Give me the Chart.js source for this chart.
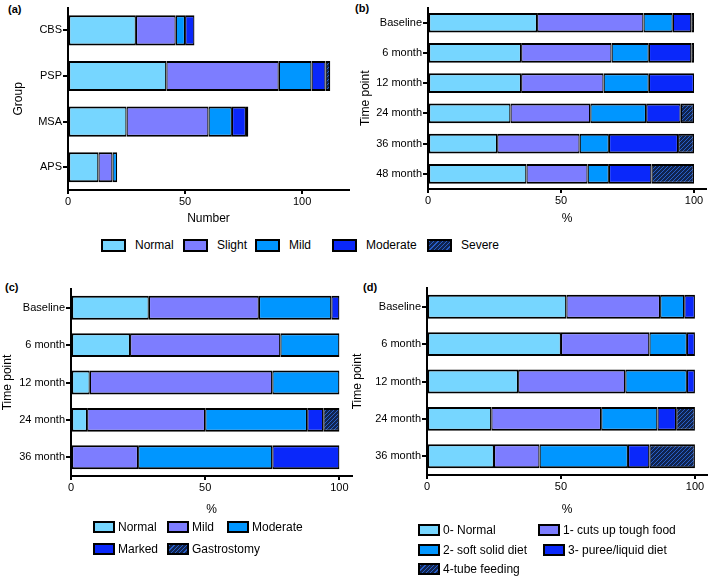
<!DOCTYPE html>
<html>
<head>
<meta charset="utf-8">
<script src="https://cdn.jsdelivr.net/npm/chart.js@4.4.1/dist/chart.umd.min.js"></script>
<style>
    body { margin: 0; background: #fff; width: 709px; height: 578px; position: relative; overflow: hidden;
           font-family: "Liberation Sans", Arial, sans-serif; color: #000; }
    .box { position: absolute; }
    .tag { position: absolute; font-weight: bold; font-size: 11px; line-height: 12px; }
    .leg { position: absolute; font-size: 12px; line-height: 16px; height: 16px; display: flex; align-items: center; white-space: nowrap; }
    .sw { display: inline-block; width: 21px; height: 9px; border: 2px solid #000; margin-right: 9px; box-sizing: content-box; }
    .small .sw { width: 18px; height: 8px; margin-right: 3px; }
</style>
</head>
<body>

<div class="tag" style="left:8px;top:3px">(a)</div>
<div class="tag" style="left:355px;top:2px">(b)</div>
<div class="tag" style="left:5px;top:281px">(c)</div>
<div class="tag" style="left:363px;top:281px">(d)</div>

<div class="box" style="left:0;top:0;width:356px;height:230px"><canvas id="chartA"></canvas></div>
<div class="box" style="left:350px;top:0;width:359px;height:230px"><canvas id="chartB"></canvas></div>
<div class="box" style="left:0;top:280px;width:356px;height:241px"><canvas id="chartC"></canvas></div>
<div class="box" style="left:350px;top:280px;width:359px;height:241px"><canvas id="chartD"></canvas></div>

<div id="legends"></div>

<script>
// ---- data ----
const groupsA = ['CBS', 'PSP', 'MSA', 'APS'];
const normalA = [29, 42, 25, 13];
const slightA = [17, 48, 35, 6];
const mildA = [4, 14, 10, 2];
const moderateA = [4, 6, 6, 0];
const severeA = [0, 2, 1, 0];

const timesB = ['Baseline', '6 month', '12 month', '24 month', '36 month', '48 month'];
const normalB = [41, 35, 35, 31, 26, 37];
const slightB = [40, 34, 31, 30, 31, 23];
const mildB = [11, 14, 17, 21, 11, 8];
const moderateB = [7, 16, 17, 13, 26, 16];
const severeB = [1, 1, 0, 5, 6, 16];

const timesC = ['Baseline', '6 month', '12 month', '24 month', '36 month'];
const normalC = [29, 22, 7, 6, 0];
const mildC = [41, 56, 68, 44, 25];
const moderateC = [27, 22, 25, 38, 50];
const markedC = [3, 0, 0, 6, 25];
const gastroC = [0, 0, 0, 6, 0];

const timesD = ['Baseline', '6 month', '12 month', '24 month', '36 month'];
const normalD = [52, 50, 34, 24, 25];
const cutsD = [35, 33, 40, 41, 17];
const softD = [9, 14, 23, 21, 33];
const pureeD = [4, 3, 3, 7, 8];
const tubeD = [0, 0, 0, 7, 17];

const labelsAB = ['Normal', 'Slight', 'Mild', 'Moderate', 'Severe'];
const labelsC = ['Normal', 'Mild', 'Moderate', 'Marked', 'Gastrostomy'];
const labelsD = ['0- Normal', '1- cuts up tough food', '2- soft solid diet', '3- puree/liquid diet', '4-tube feeding'];
const xTicks = [0, 50, 100];

// ---- colours ----
const cLight = 'rgb(118, 214, 255)';
const cPurple = 'rgb(125, 125, 255)';
const cMid = 'rgb(0, 150, 255)';
const cDark = 'rgb(10, 40, 250)';

function hatch() {
    const c = document.createElement('canvas');
    c.width = 4; c.height = 4;
    const g = c.getContext('2d');
    g.fillStyle = 'rgb(16, 36, 80)';
    g.fillRect(0, 0, 4, 4);
    g.strokeStyle = 'rgb(40, 95, 200)';
    g.lineWidth = 1;
    g.beginPath();
    g.moveTo(-1, 5); g.lineTo(5, -1);
    g.moveTo(-1, 1); g.lineTo(1, -1);
    g.moveTo(3, 5); g.lineTo(5, 3);
    g.stroke();
    return g.createPattern(c, 'repeat');
}
const cHatch = hatch();
const colors = [cLight, cPurple, cMid, cDark, cHatch];

Chart.defaults.font.family = '"Liberation Sans", Arial, sans-serif';
Chart.defaults.font.size = 11;
Chart.defaults.color = '#000';

function makeChart(id, cats, series, names, o) {
    // thinner sides so two neighbouring segments make one ~2.5px divider
    const datasets = series.map((d, i) => ({
        label: names[i],
        data: d,
        backgroundColor: colors[i],
        borderColor: '#000',
        borderWidth: { top: 2, bottom: 2, left: 1.25, right: 1.25 },
        borderSkipped: false,
        barPercentage: o.bar,
        categoryPercentage: 1
    }));

    return new Chart(document.getElementById(id), {
        type: 'bar',
        data: { labels: cats, datasets: datasets },
        options: {
            indexAxis: 'y',
            responsive: true,
            maintainAspectRatio: false,
            animation: false,
            layout: { padding: o.pad },
            plugins: { legend: { display: false }, tooltip: { enabled: false } },
            scales: {
                x: {
                    stacked: true,
                    min: 0,
                    max: o.max,
                    afterBuildTicks: s => { s.ticks = xTicks.map(v => ({ value: v })); },
                    afterFit: s => { s.height = o.xh; },
                    border: { color: '#000', width: 2 },
                    grid: { drawOnChartArea: false, color: '#000', lineWidth: 2, tickLength: 4 },
                    ticks: { padding: 1, font: { size: 11 } },
                    title: { display: true, text: o.xTitle, font: { size: 12 }, padding: { top: 4, bottom: 4 } }
                },
                y: {
                    stacked: true,
                    afterFit: s => { s.width = o.yw; },
                    border: { color: '#000', width: 2 },
                    grid: { drawOnChartArea: false, offset: false, color: '#000', lineWidth: 2, tickLength: 5 },
                    ticks: { padding: 1, font: { size: 11 } },
                    title: { display: true, text: o.yTitle, font: { size: 12 }, padding: { top: 0, bottom: 4 } }
                }
            }
        }
    });
}

makeChart('chartA', groupsA, [normalA, slightA, mildA, moderateA, severeA], labelsAB,
    { max: 120, bar: 0.66, pad: { left: 11, top: 3, right: 7, bottom: 0 }, yw: 57, xh: 40, xTitle: 'Number', yTitle: 'Group' });

makeChart('chartB', timesB, [normalB, slightB, mildB, moderateB, severeB], labelsAB,
    { max: 104.5, bar: 0.65, pad: { left: 8, top: 3, right: 3, bottom: 0 }, yw: 70, xh: 41, xTitle: '%', yTitle: 'Time point' });

makeChart('chartC', timesC, [normalC, mildC, moderateC, markedC, gastroC], labelsC,
    { max: 104.7, bar: 0.64, pad: { left: 0, top: 9, right: 4, bottom: 0 }, yw: 71, xh: 45, xTitle: '%', yTitle: 'Time point' });

makeChart('chartD', timesD, [normalD, cutsD, softD, pureeD, tubeD], labelsD,
    { max: 104.5, bar: 0.64, pad: { left: 0, top: 8, right: 2, bottom: 0 }, yw: 77, xh: 46, xTitle: '%', yTitle: 'Time point' });

// ---- html legends ----
function legendItem(x, y, color, text, small) {
    const el = document.createElement('div');
    el.className = small ? 'leg small' : 'leg';
    el.style.left = x + 'px';
    el.style.top = (y - 8) + 'px';
    const sw = document.createElement('span');
    sw.className = 'sw';
    if (color === cHatch)
        sw.style.background = 'repeating-linear-gradient(-45deg, rgb(16,36,80) 0 2px, rgb(40,95,200) 2px 3px)';
    else
        sw.style.background = color;
    el.appendChild(sw);
    el.appendChild(document.createTextNode(text));
    document.getElementById('legends').appendChild(el);
}

const legX_AB = [101, 183, 255, 332, 427];
labelsAB.forEach((t, i) => legendItem(legX_AB[i], 245, colors[i], t, false));

const legPosC = [[93, 527], [167, 527], [227, 527], [93, 549], [167, 549]];
labelsC.forEach((t, i) => legendItem(legPosC[i][0], legPosC[i][1], colors[i], t, true));

const legPosD = [[418, 530], [538, 530], [418, 550], [543, 550], [418, 569]];
labelsD.forEach((t, i) => legendItem(legPosD[i][0], legPosD[i][1], colors[i], t, true));
</script>
</body>
</html>
